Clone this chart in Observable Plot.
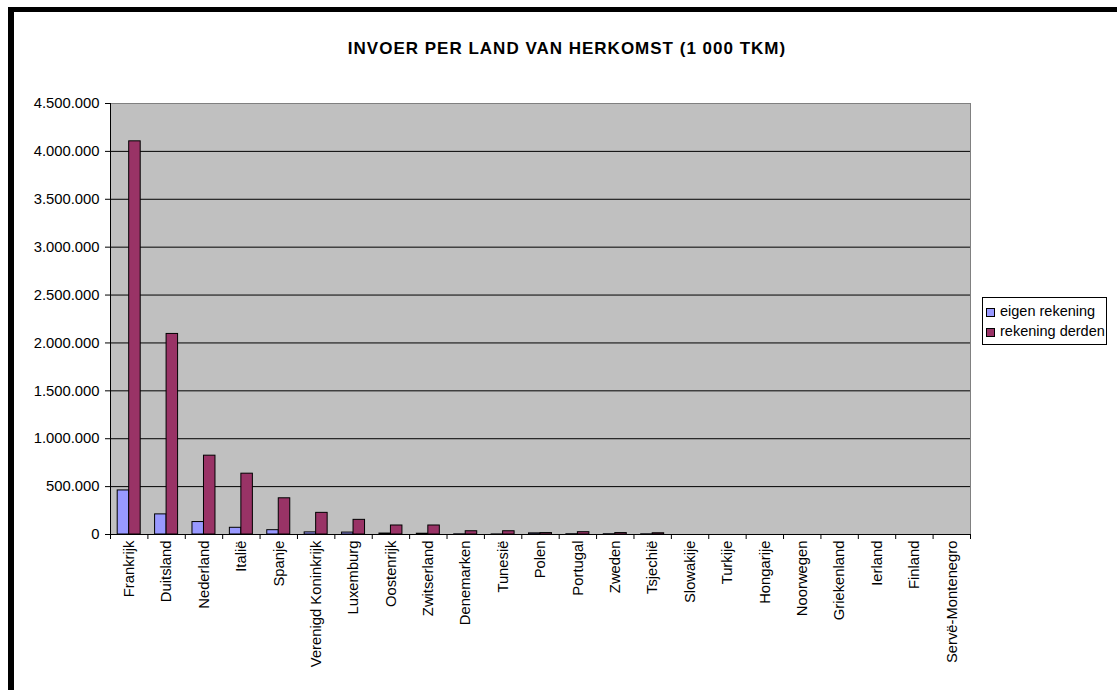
<!DOCTYPE html>
<html>
<head>
<meta charset="utf-8">
<script src="https://cdn.jsdelivr.net/npm/d3@7"></script>
<script src="https://cdn.jsdelivr.net/npm/@observablehq/plot@0.6"></script>
<style>
  html, body { margin: 0; padding: 0; background: #fff; overflow: hidden; }
  #page { position: relative; width: 1117px; height: 690px; overflow: hidden; font-family: "Liberation Sans", Arial, sans-serif; }
  #border { position: absolute; left: 8px; top: 7px; width: 1300px; height: 900px; border-left: 6px solid #000; border-top: 5px solid #000; box-sizing: border-box; }
  #chart { position: absolute; left: 0; top: 0; }
  #title { position: absolute; left: 0; width: 1134px; top: 39px; text-align: center; font-weight: bold; font-size: 17px; letter-spacing: 1px; color: #000; }
  #legend { position: absolute; left: 982px; top: 297px; width: 125px; height: 48px; border: 1px solid #000; background: #fff; box-sizing: border-box; font-size: 14.5px; }
  .row { position: absolute; left: 3px; height: 18px; line-height: 18px; white-space: nowrap; }
  .sw { display: inline-block; width: 9px; height: 9px; border: 1px solid #000; box-sizing: border-box; margin-right: 5px; vertical-align: -1px; }
</style>
</head>
<body>
<div id="page">
  <div id="border"></div>
  <div id="chart"></div>
  <div id="title"></div>
  <div id="legend"></div>
</div>
<script>
const titleText = "INVOER PER LAND VAN HERKOMST (1 000 TKM)";
const countries = ["Frankrijk","Duitsland","Nederland","Italië","Spanje","Verenigd Koninkrijk","Luxemburg","Oostenrijk","Zwitserland","Denemarken","Tunesië","Polen","Portugal","Zweden","Tsjechië","Slowakije","Turkije","Hongarije","Noorwegen","Griekenland","Ierland","Finland","Servë-Montenegro"];
const eigenRekening = [460000,210000,130000,70000,45000,22000,20000,10000,8000,2000,1000,12000,3000,3000,2000,0,0,0,0,0,0,0,0];
const rekeningDerden = [4105000,2094000,823000,635000,378000,226000,153000,94000,94000,34000,34000,15000,24000,15000,13000,0,0,0,0,0,0,0,0];
const seriesNames = ["eigen rekening","rekening derden"];
const seriesColors = ["#9999ff","#993366"];
const yTicks = [0,500000,1000000,1500000,2000000,2500000,3000000,3500000,4000000,4500000];
const gridTicks = [500000,1000000,1500000,2000000,2500000,3000000,3500000,4000000];

const W = 1117, H = 690, mL = 110, mR = 147, mT = 103, mB = 156;
const step = (W - mL - mR) / countries.length;
const padInner = 0.385;
const half = step * (1 - padInner) / 2;

const nl = d3.formatLocale({decimal: ",", thousands: ".", grouping: [3], currency: ["€", ""]});
const fmt = nl.format(",d");

const rows = countries.map((c, i) => ({country: c, eigen: eigenRekening[i], derden: rekeningDerden[i]}));

const chart = Plot.plot({
  width: W, height: H,
  marginLeft: mL, marginRight: mR, marginTop: mT, marginBottom: mB,
  style: {fontFamily: "'Liberation Sans', Arial, sans-serif", fontSize: "14.8px", color: "#000", background: "transparent"},
  x: {type: "band", domain: countries, paddingInner: padInner, paddingOuter: padInner / 2, round: false, axis: null},
  y: {domain: [0, 4500000], axis: null},
  marks: [
    Plot.frame({fill: "#c0c0c0", stroke: "#808080"}),
    Plot.ruleY(gridTicks, {stroke: "#000", strokeWidth: 1}),
    Plot.barY(rows, {x: "country", y: "eigen", fill: seriesColors[0], stroke: "#000", strokeWidth: 1, insetRight: half}),
    Plot.barY(rows, {x: "country", y: "derden", fill: seriesColors[1], stroke: "#000", strokeWidth: 1, insetLeft: half}),
    Plot.ruleY([0], {stroke: "#000"}),
    Plot.ruleX([countries[0]], {y1: 0, y2: 4500000, dx: -step / 2, stroke: "#000"}),
    Plot.axisY(yTicks, {tickSize: 5, tickPadding: 6, tickFormat: fmt, label: null, stroke: "#000", fill: "#000"}),
    Plot.axisX(countries, {fill: "none", tickSize: 5, dx: -step / 2, label: null, stroke: "#000"}),
    Plot.axisX([countries[countries.length - 1]], {fill: "none", tickSize: 5, dx: step / 2, label: null, stroke: "#000"}),
    Plot.axisX(countries, {tickSize: 0, tickPadding: 6, tickRotate: -90, label: null, fill: "#000"})
  ]
});
document.getElementById("chart").appendChild(chart);
document.getElementById("title").textContent = titleText;

const legend = document.getElementById("legend");
seriesNames.forEach((name, i) => {
  const r = document.createElement("div");
  r.className = "row";
  r.style.top = (4 + i * 20) + "px";
  const sw = document.createElement("span");
  sw.className = "sw";
  sw.style.background = seriesColors[i];
  r.appendChild(sw);
  r.appendChild(document.createTextNode(name));
  legend.appendChild(r);
});
</script>
</body>
</html>
